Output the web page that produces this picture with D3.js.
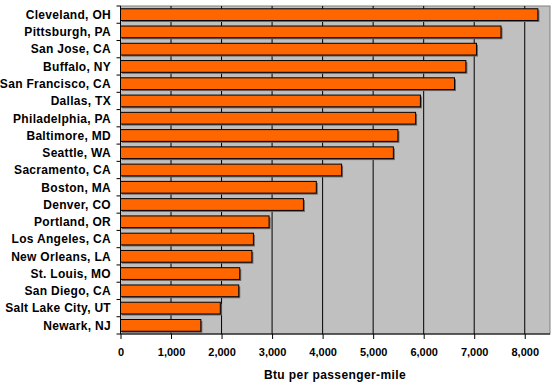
<!DOCTYPE html>
<html>
<head>
<script src="https://d3js.org/d3.v7.min.js"></script>
<meta charset="utf-8">
<title>Btu per passenger-mile</title>
<style>
  body { margin: 0; background: #fff; }
  text { font-family: "Liberation Sans", Arial, sans-serif; font-weight: bold; }
</style>
</head>
<body>
<svg width="557" height="387"></svg>
<script>
// cities, top to bottom
var cities = ['Cleveland, OH', 'Pittsburgh, PA', 'San Jose, CA', 'Buffalo, NY', 'San Francisco, CA',
  'Dallas, TX', 'Philadelphia, PA', 'Baltimore, MD', 'Seattle, WA', 'Sacramento, CA', 'Boston, MA',
  'Denver, CO', 'Portland, OR', 'Los Angeles, CA', 'New Orleans, LA', 'St. Louis, MO', 'San Diego, CA',
  'Salt Lake City, UT', 'Newark, NJ'];
var btu = [8260, 7530, 7045, 6835, 6610, 5935, 5840, 5490, 5400, 4375, 3875, 3620, 2940, 2630, 2600,
  2360, 2340, 1975, 1590];
var ticks = [0, 1000, 2000, 3000, 4000, 5000, 6000, 7000, 8000];

var svg = d3.select('svg');
// plot area edges (window.top is taken, so use other names)
var pLeft = 120.5, pRight = 550, pTop = 6, pBottom = 334;

var x = d3.scaleLinear().domain([0, 8500]).range([pLeft, pRight]);
var y = d3.scaleBand().domain(cities).range([pTop, pBottom]).paddingInner(0.32).paddingOuter(0.16);
var band = (pBottom - pTop) / cities.length;

// plot background
svg.append('rect')
  .attr('x', pLeft).attr('y', pTop)
  .attr('width', pRight - pLeft).attr('height', pBottom - pTop)
  .attr('fill', '#c0c0c0').attr('stroke', '#808080');

// vertical gridlines
svg.selectAll('.grid').data(ticks.slice(1))
  .enter().append('line')
    .attr('x1', function(d) { return x(d); })
    .attr('x2', function(d) { return x(d); })
    .attr('y1', pTop).attr('y2', pBottom)
    .attr('stroke', '#000').attr('stroke-width', 1);

// bar shadows then bars
svg.selectAll('.shadow').data(btu)
  .enter().append('rect')
    .attr('x', pLeft + 1.5)
    .attr('y', function(d, i) { return y(cities[i]) + 1.5; })
    .attr('width', function(d) { return x(d) - pLeft; })
    .attr('height', y.bandwidth())
    .attr('fill', '#666');

svg.selectAll('.bar').data(btu)
  .enter().append('rect')
    .attr('x', pLeft)
    .attr('y', function(d, i) { return y(cities[i]); })
    .attr('width', function(d) { return x(d) - pLeft; })
    .attr('height', y.bandwidth())
    .attr('fill', '#ff6600')
    .attr('stroke', '#000').attr('stroke-width', 1);

// left axis line and category ticks
svg.append('line')
  .attr('x1', pLeft).attr('x2', pLeft).attr('y1', pTop).attr('y2', pBottom)
  .attr('stroke', '#000');
svg.selectAll('.ytick').data(d3.range(cities.length + 1))
  .enter().append('line')
    .attr('x1', pLeft - 4).attr('x2', pLeft)
    .attr('y1', function(i) { return pTop + i * band; })
    .attr('y2', function(i) { return pTop + i * band; })
    .attr('stroke', '#000');

// category labels
svg.selectAll('.label').data(cities)
  .enter().append('text')
    .attr('x', 111)
    .attr('y', function(d) { return y(d) + y.bandwidth() / 2; })
    .attr('dy', '0.36em')
    .attr('text-anchor', 'end')
    .attr('font-size', '12px')
    .attr('letter-spacing', '0.3px')
    .attr('fill', '#000')
    .text(function(d) { return d; });

// bottom axis
var xAxis = d3.axisBottom(x).tickValues(ticks).tickSize(5).tickPadding(9)
  .tickFormat(d3.format(','));
var gx = svg.append('g').attr('transform', 'translate(0,' + pBottom + ')').call(xAxis);
gx.select('.domain').attr('d', 'M' + pLeft + ',0H' + pRight).attr('stroke', '#000');
gx.selectAll('.tick line').attr('stroke', '#000');
gx.selectAll('.tick text').attr('font-size', '11px').attr('fill', '#000')
  .style('font-family', '"Liberation Sans", Arial, sans-serif').style('font-weight', 'bold');

svg.append('text')
  .attr('x', 335).attr('y', 379)
  .attr('text-anchor', 'middle')
  .attr('font-size', '12px')
  .attr('letter-spacing', '0.4px')
  .text('Btu per passenger-mile');
</script>
</body>
</html>
